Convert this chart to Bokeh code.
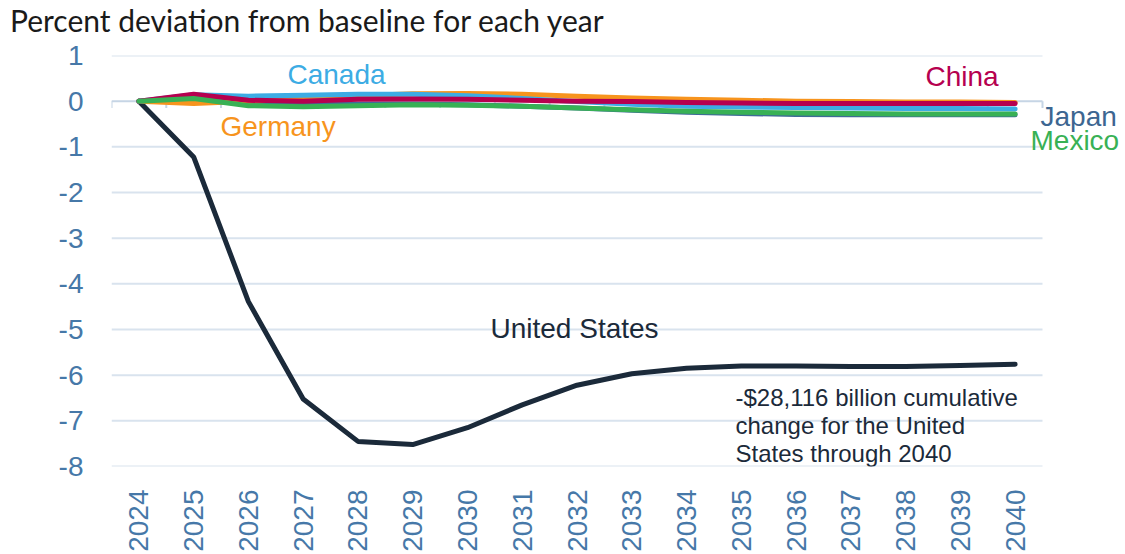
import numpy as np
from bokeh.plotting import figure
from bokeh.layouts import column
from bokeh.models import Range1d, FixedTicker, Label, Div
from bokeh.embed import file_html
from bokeh.resources import INLINE

# Percent deviation from baseline, by year
years = list(range(2024, 2041))
united_states = [0, -1.22, -4.39, -6.52, -7.45, -7.52, -7.15, -6.65, -6.22,
                 -5.97, -5.85, -5.80, -5.80, -5.81, -5.81, -5.79, -5.76]
japan = [0, 0.08, -0.04, -0.07, -0.07, -0.06, -0.08, -0.11, -0.15,
         -0.20, -0.24, -0.27, -0.29, -0.30, -0.30, -0.30, -0.30]
germany = [0, -0.05, 0.0, 0.05, 0.12, 0.16, 0.17, 0.15, 0.11,
           0.07, 0.04, 0.02, 0.0, -0.01, -0.02, -0.02, -0.03]
canada = [0, 0.14, 0.11, 0.13, 0.15, 0.15, 0.12, 0.06, -0.01,
          -0.07, -0.11, -0.13, -0.14, -0.15, -0.16, -0.16, -0.17]
china = [0, 0.15, 0.02, 0.0, 0.04, 0.05, 0.04, 0.02, 0.0,
         -0.01, -0.03, -0.04, -0.05, -0.05, -0.05, -0.05, -0.05]
mexico = [0, 0.06, -0.10, -0.12, -0.10, -0.08, -0.09, -0.11, -0.15,
          -0.19, -0.22, -0.24, -0.26, -0.27, -0.28, -0.28, -0.28]

y_ticks = [1, 0, -1, -2, -3, -4, -5, -6, -7, -8]

series = [
    ("United States", united_states, "#1b2a3a"),
    ("Japan", japan, "#3f6b97"),
    ("Germany", germany, "#f7941d"),
    ("Canada", canada, "#3dace4"),
    ("China", china, "#b6004f"),
    ("Mexico", mexico, "#38b155"),
]

AXIS_BLUE = "#4678a8"
GRID = "#d9e3ee"
AXIS_LINE = "#c6d5e5"

W, H = 1125, 554
HEAD = 40          # height of the heading strip above the chart

# heading strip
heading = Div(
    text='<div style="margin:0;padding:2px 0 0 10px;font-family:Lato;font-size:30px;'
         'line-height:36px;color:#1a1a1a;white-space:nowrap;">'
         'Percent deviation from baseline for each year</div>',
    width=W, height=HEAD, margin=(0, 0, 0, 0),
)

x = np.arange(len(years))
x_lo, x_hi = -0.5, len(years) - 0.5          # extent of the category axis
unit_px = 931 / len(years)                     # pixels per year slot
x_end = x_hi + 83 / unit_px                    # leave room for the end labels

p = figure(width=W, height=H - HEAD, output_backend="svg", toolbar_location=None,
           x_range=Range1d(x_lo, x_end), y_range=Range1d(min(y_ticks), max(y_ticks)),
           min_border_left=111, min_border_right=0, min_border_top=55 - HEAD,
           min_border_bottom=85, margin=(0, 0, 0, 0))
p.outline_line_color = None
p.background_fill_color = "white"
p.border_fill_color = "white"

# horizontal gridlines across the category axis only
p.xgrid.grid_line_color = None
p.ygrid.grid_line_color = None
grid_vals = [t for t in y_ticks if t != 0]
p.segment(x0=[x_lo] * len(grid_vals), y0=grid_vals, x1=[x_hi] * len(grid_vals), y1=grid_vals,
          line_color=GRID, line_width=2)

# y axis: labels only
p.yaxis.ticker = FixedTicker(ticks=y_ticks)
p.yaxis.major_label_overrides = {t: str(t) for t in y_ticks}
p.yaxis.axis_line_color = None
p.yaxis.major_tick_line_color = None
p.yaxis.minor_tick_line_color = None
p.yaxis.major_label_standoff = 22
p.yaxis.major_label_text_font = "Liberation Sans"
p.yaxis.major_label_text_font_size = "28px"
p.yaxis.major_label_text_color = AXIS_BLUE

# x axis: rotated year labels along the bottom
p.xaxis.ticker = FixedTicker(ticks=list(x))
p.xaxis.major_label_overrides = {int(i): str(y) for i, y in zip(x, years)}
p.xaxis.major_label_orientation = np.pi / 2
p.xaxis.axis_line_color = None
p.xaxis.major_tick_line_color = None
p.xaxis.minor_tick_line_color = None
p.xaxis.major_label_standoff = 17
p.xaxis.major_label_text_font = "Liberation Sans"
p.xaxis.major_label_text_font_size = "28px"
p.xaxis.major_label_text_color = AXIS_BLUE

# category axis crossing at zero, with tick marks between years
p.segment(x0=[x_lo], y0=[0], x1=[x_hi], y1=[0], line_color=AXIS_LINE, line_width=2)
bounds = np.arange(len(years) + 1) - 0.5
p.segment(x0=bounds, y0=0, x1=bounds, y1=-0.15, line_color=AXIS_LINE, line_width=2)

for name, vals, color in series:
    p.line(x, vals, line_color=color, line_width=5, line_cap="round", line_join="round")

# text placed in page pixels (left edge, top edge of the text box)
def add_label(text, left, top, color, size=28, font="Liberation Sans"):
    p.add_layout(Label(x=left, y=top - HEAD, x_units="canvas", y_units="canvas", text=text,
                       text_color=color, text_font=font, text_font_size=f"{size}px",
                       text_baseline="top", text_align="left"))

add_label("Canada", 287, 58, "#3dace4")
add_label("Germany", 220, 110, "#f7941d")
add_label("China", 925, 60, "#b6004f")
add_label("Japan", 1040, 100, "#3d6691")
add_label("Mexico", 1030, 124, "#38b155")
add_label("United States", 490, 312, "#1b2a3a")

note = ["-$28,116 billion cumulative", "change for the United", "States through 2040"]
for i, line in enumerate(note):
    add_label(line, 735, 383 + 28 * i, "#1b2a3a", size=24)

page = column(heading, p, spacing=0)
open("out.html", "w").write(file_html(page, INLINE))
